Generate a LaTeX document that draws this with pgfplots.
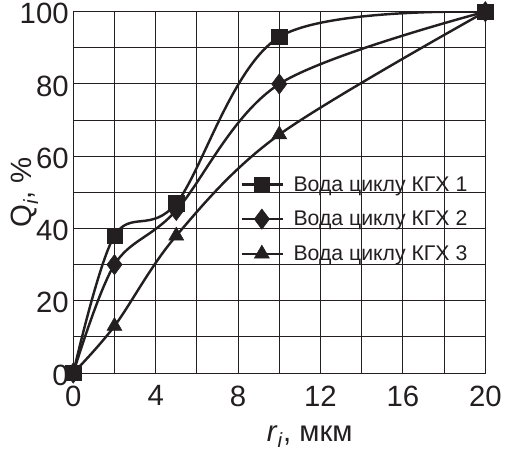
\documentclass[border=0pt]{standalone}
\usepackage{pgfplots}
\pgfplotsset{compat=1.18}
\usepackage{fontspec}
\setmainfont{Liberation Sans}
\definecolor{ink}{HTML}{231F20}
\pgfplotstableread{
x y
0 0
2 38
5 47
10 93
20 100
}\seriesA
\pgfplotstableread{
x y
0 0
2 30
5 45
10 80
20 100
}\seriesB
\pgfplotstableread{
x y
0 0
2 13
5 38
10 66
20 100
}\seriesC
\begin{document}
\begin{tikzpicture}
\begin{axis}[
  name=main,
  scale only axis, width=406bp, height=356bp,
  xmin=0, xmax=20, ymin=0, ymax=100,
  xtick={0,4,...,20}, ytick={0,20,...,100},
  minor xtick={2,6,...,18}, minor ytick={10,30,...,90},
  grid=both,
  major grid style={ink, line width=1bp},
  minor grid style={ink, line width=1bp},
  axis line style={ink, line width=1bp},
  major tick length=0pt, minor tick length=0pt,
  ticklabel style={font=\fontsize{29}{32}\selectfont, text=ink},
  /pgf/number format/assume math mode=true,
  xticklabel style={yshift=-9bp},
  yticklabel style={xshift=-1bp, yshift=-2bp},
  xlabel={\textit{r}\textsubscript{\textit{i}}, мкм},
  ylabel={Q\textsubscript{\textit{i}}, \%},
  label style={font=\fontsize{29}{32}\selectfont, text=ink},
  xlabel style={yshift=-13bp, xshift=30bp, inner sep=2bp},
  ylabel style={yshift=-25bp},
  legend style={at={(0.405,0.55)}, anchor=north west, draw=none, fill=none,
    font=\fontsize{21}{24}\selectfont, text=ink, row sep=14bp,
    inner sep=0pt, nodes={inner sep=2bp}},
  legend cell align=left,
  legend image code/.code={\draw[mark repeat=2, mark phase=2] plot coordinates {(0bp,0bp) (20bp,0bp) (40bp,0bp)};},
  every axis plot/.append style={ink, line width=2.4bp, smooth, tension=0.55},
]
\addplot[mark=square*, mark size=7.5bp, mark options={solid, line width=0.5bp}] table {\seriesA};
\addlegendentry{\hspace{8bp}Вода циклу КГХ 1}
\addplot[mark=diamond*, mark size=10bp, mark options={solid, line width=0.5bp}] table {\seriesB};
\addlegendentry{\hspace{8bp}Вода циклу КГХ 2}
\addplot[mark=triangle*, mark size=8.5bp, mark options={solid, line width=0.5bp}] table {\seriesC};
\addlegendentry{\hspace{8bp}Вода циклу КГХ 3}
\end{axis}
\path ([xshift=-8bp]main.outer west) -- (main.outer west);
\path ([yshift=-4bp]main.outer south) -- (main.outer south);
\end{tikzpicture}
\end{document}
